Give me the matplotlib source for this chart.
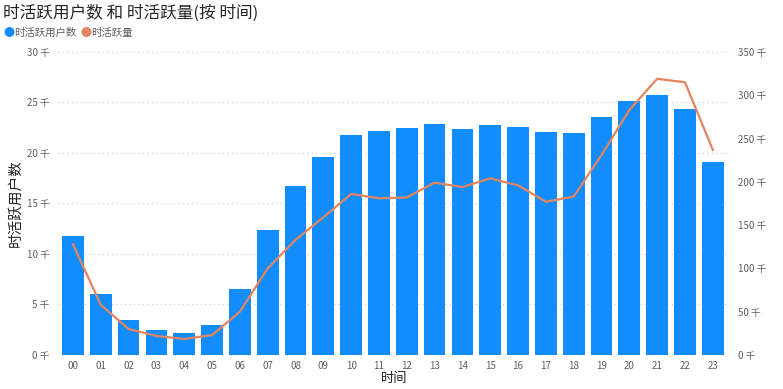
import numpy as np
import matplotlib
matplotlib.use("Agg")
from matplotlib import pyplot as plt
from matplotlib.ticker import FuncFormatter

plt.rcParams['font.family'] = ['Noto Sans CJK SC', 'DejaVu Sans']

hours = ["%02d" % h for h in range(24)]
# 时活跃用户数 (千)
users = [11.8, 6.0, 3.5, 2.5, 2.2, 3.0, 6.5, 12.4, 16.7, 19.6, 21.8, 22.2,
         22.5, 22.9, 22.4, 22.8, 22.6, 22.1, 22.0, 23.6, 25.1, 25.7, 24.4, 19.1]
# 时活跃量 (千)
volume = [128, 58, 30, 22, 18.5, 23, 50, 100, 133, 159, 186, 181,
          182, 199, 194, 204, 196, 177, 183, 231, 283, 319, 315, 237]

bar_color = '#118DFF'
line_color = '#E2855E'
grey = '#605E5C'

fig = plt.figure(figsize=(7.83, 3.89), dpi=100)
ax = fig.add_axes([0.074, 0.0874, 0.858, 0.779])
ax2 = ax.twinx()

x = np.arange(len(hours))
ax.bar(x, users, width=0.78, color=bar_color, zorder=2)
ax2.plot(x, volume, color=line_color, linewidth=1.6, zorder=3)

ax.set_xlim(-0.54, 23.61)
ax.set_ylim(0, 30)
ax2.set_ylim(0, 350)
ax.set_yticks(range(0, 31, 5))
ax2.set_yticks(range(0, 351, 50))
fmt = FuncFormatter(lambda v, p: "%d 千" % v)
ax.yaxis.set_major_formatter(fmt)
ax2.yaxis.set_major_formatter(fmt)
ax.set_xticks(x)
ax.set_xticklabels(hours)

for a in (ax, ax2):
    for s in a.spines.values():
        s.set_visible(False)
    a.tick_params(length=0, labelsize=7, labelcolor=grey, pad=6)
ax.tick_params(axis='x', pad=4)

ax.grid(axis='y', linestyle=(0, (1, 3)), color='#C8C6C4', linewidth=0.8, zorder=0)
ax.set_axisbelow(True)

ax.set_xlabel("时间", fontsize=9.5, color='#252423', labelpad=1)
ax.set_ylabel("时活跃用户数", fontsize=10.5, color='#252423', labelpad=3)

fig.text(0.004, 0.965, "时活跃用户数 和 时活跃量(按 时间)", fontsize=12,
         color='#252423', va='center', ha='left')
fig.text(0.004, 0.915, "●", fontsize=8, color=bar_color, va='center')
fig.text(0.018, 0.915, "时活跃用户数", fontsize=7.5, color=grey, va='center')
fig.text(0.103, 0.915, "●", fontsize=8, color=line_color, va='center')
fig.text(0.117, 0.915, "时活跃量", fontsize=7.5, color=grey, va='center')

fig.savefig("out.png", dpi=100)
